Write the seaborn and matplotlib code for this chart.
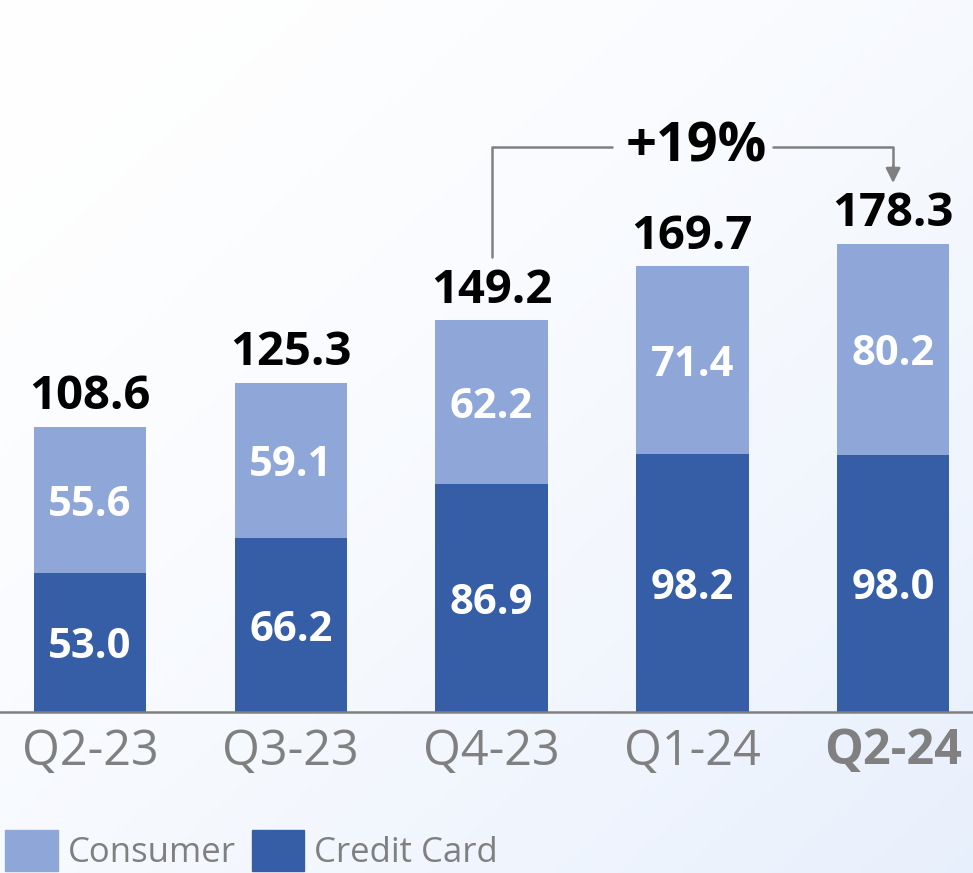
import matplotlib.pyplot as plt
import matplotlib.patches as mpatches
import numpy as np
import pandas as pd
import seaborn as sns

quarters = ['Q2-23', 'Q3-23', 'Q4-23', 'Q1-24', 'Q2-24']
credit_card = [53.0, 66.2, 86.9, 98.2, 98.0]
consumer = [55.6, 59.1, 62.2, 71.4, 80.2]
totals = [108.6, 125.3, 149.2, 169.7, 178.3]
growth_label = '+19%'

light = '#8EA7D8'
dark = '#365EA6'
grey = '#808080'

sns.set_style('white')
plt.rcParams['font.family'] = ['Open Sans', 'DejaVu Sans']

df = pd.DataFrame({'quarter': quarters, 'credit': credit_card,
                   'consumer': consumer, 'total': totals})

fig = plt.figure(figsize=(9.73, 8.73), dpi=100)

# faint gradient background (white top-left -> pale blue bottom-right)
bg = fig.add_axes([0, 0, 1, 1], zorder=-10)
gx, gy = np.meshgrid(np.linspace(0, 1, 200), np.linspace(0, 1, 200))
g = np.clip((gx + gy) / 2, 0, 1) ** 1.5
img = np.ones((200, 200, 3))
img[..., 0] = 1 - g * (1 - 0.91)
img[..., 1] = 1 - g * (1 - 0.94)
img[..., 2] = 1 - g * (1 - 0.99)
bg.imshow(img, aspect='auto', extent=[0, 1, 0, 1], origin='upper')
bg.axis('off')

ax = fig.add_axes([0, 0.1844, 1, 0.8156])
ax.patch.set_alpha(0)

sns.barplot(data=df, x='quarter', y='total', color=light, width=0.56,
            saturation=1, linewidth=0, edgecolor='none', ax=ax, zorder=2)
sns.barplot(data=df, x='quarter', y='credit', color=dark, width=0.56,
            saturation=1, linewidth=0, edgecolor='none', ax=ax, zorder=3)

ax.set_xlim(-0.448, 4.398)
ax.set_ylim(0, 271.2)

for i in range(len(quarters)):
    ax.text(i, credit_card[i] / 2 - 2, f'{credit_card[i]:.1f}', ha='center', va='center',
            color='white', fontsize=30, fontweight='bold', zorder=5)
    ax.text(i, credit_card[i] + consumer[i] / 2 - 2, f'{consumer[i]:.1f}', ha='center',
            va='center', color='white', fontsize=30, fontweight='bold', zorder=5)
    ax.text(i, totals[i] + 2.5, f'{totals[i]:.1f}', ha='center',
            va='bottom', color='black', fontsize=34, fontweight='bold', zorder=5)

# growth bracket from Q4-23 to Q2-24
y_top = 215.2
ax.plot([2, 2, 2.6], [173.5, y_top, y_top], color=grey, lw=1.8, zorder=4)
ax.plot([3.4, 4, 4], [y_top, y_top, 207], color=grey, lw=1.8, zorder=4)
ax.annotate('', xy=(4, 201.5), xytext=(4, 208),
            arrowprops=dict(arrowstyle='-|>', color=grey, lw=1.8,
                            mutation_scale=22, shrinkA=0, shrinkB=0))
ax.text(3.02, y_top, growth_label, ha='center', va='center', fontsize=39,
        fontweight='bold', color='black', zorder=5)

ax.set_xlabel('')
ax.set_ylabel('')
ax.set_yticks([])
ax.set_xticks(range(len(quarters)))
ax.set_xticklabels(quarters, fontsize=35, color=grey)
ax.get_xticklabels()[-1].set_fontweight('bold')
ax.tick_params(axis='x', length=0, pad=11)
for s in ['top', 'left', 'right']:
    ax.spines[s].set_visible(False)
ax.spines['bottom'].set_color(grey)
ax.spines['bottom'].set_linewidth(1.8)
ax.spines['bottom'].set_zorder(6)

handles = [mpatches.Patch(color=light, label='Consumer'),
           mpatches.Patch(color=dark, label='Credit Card')]
leg = fig.legend(handles=handles, loc='lower left', bbox_to_anchor=(0.002, -0.002),
                 ncol=2, frameon=False, fontsize=25, handlelength=1.5,
                 handleheight=1.45, handletextpad=0.3, columnspacing=0.45,
                 borderaxespad=0, borderpad=0.1)
for t in leg.get_texts():
    t.set_color(grey)

fig.savefig('out.png', dpi=100)
